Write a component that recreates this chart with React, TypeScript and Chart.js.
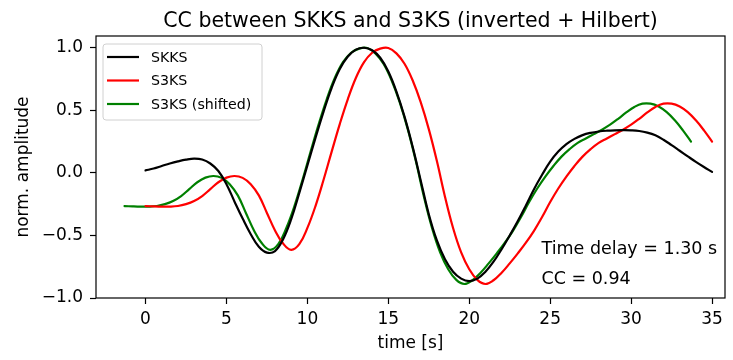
import React, { useEffect, useRef } from "react";
import { Chart, registerables } from "chart.js";

Chart.register(...registerables);

const TITLE = "CC between SKKS and S3KS (inverted + Hilbert)";
const X_LABEL = "time [s]";
const Y_LABEL = "norm. amplitude";
const X_TICKS = [0, 5, 10, 15, 20, 25, 30, 35];
const Y_TICKS = [-1, -0.5, 0, 0.5, 1];
const LEGEND_LABELS = ["SKKS", "S3KS", "S3KS (shifted)"];
const ANNOTATIONS = ["Time delay = 1.30 s", "CC = 0.94"];

// sample times (s) of SKKS and S3KS, 0.5 s spacing
const TIME = [
  0, 0.5, 1, 1.5, 2, 2.5, 3, 3.5, 4, 4.5, 5, 5.5, 6, 6.5, 7, 7.5, 8, 8.5, 9, 9.5,
  10, 10.5, 11, 11.5, 12, 12.5, 13, 13.5, 14, 14.5, 15, 15.5, 16, 16.5, 17, 17.5, 18, 18.5, 19, 19.5,
  20, 20.5, 21, 21.5, 22, 22.5, 23, 23.5, 24, 24.5, 25, 25.5, 26, 26.5, 27, 27.5, 28, 28.5, 29, 29.5,
  30, 30.5, 31, 31.5, 32, 32.5, 33, 33.5, 34, 34.5, 35,
];
// sample times of the shifted S3KS trace (TIME − 1.30 s)
const SHIFTED_TIME = [
  -1.3, -0.8, -0.3, 0.2, 0.7, 1.2, 1.7, 2.2, 2.7, 3.2, 3.7, 4.2, 4.7, 5.2, 5.7, 6.2, 6.7, 7.2, 7.7, 8.2,
  8.7, 9.2, 9.7, 10.2, 10.7, 11.2, 11.7, 12.2, 12.7, 13.2, 13.7, 14.2, 14.7, 15.2, 15.7, 16.2, 16.7, 17.2, 17.7, 18.2,
  18.7, 19.2, 19.7, 20.2, 20.7, 21.2, 21.7, 22.2, 22.7, 23.2, 23.7, 24.2, 24.7, 25.2, 25.7, 26.2, 26.7, 27.2, 27.7, 28.2,
  28.7, 29.2, 29.7, 30.2, 30.7, 31.2, 31.7, 32.2, 32.7, 33.2, 33.7,
];

const SKKS = [
  0.02, 0.035, 0.055, 0.075, 0.092, 0.106, 0.114, 0.107, 0.075, 0.015, -0.09, -0.23, -0.365, -0.49, -0.59, -0.637, -0.625, -0.53, -0.37, -0.16,
  0.06, 0.28, 0.49, 0.68, 0.83, 0.93, 0.985, 1.0, 0.98, 0.92, 0.81, 0.65, 0.45, 0.21, -0.06, -0.33, -0.54, -0.69, -0.79, -0.845,
  -0.865, -0.845, -0.79, -0.71, -0.61, -0.5, -0.385, -0.26, -0.13, -0.015, 0.09, 0.17, 0.23, 0.272, 0.302, 0.32, 0.331, 0.337, 0.34, 0.341,
  0.34, 0.335, 0.322, 0.3, 0.265, 0.222, 0.177, 0.132, 0.088, 0.047, 0.008,
];

const S3KS = [
  -0.265, -0.268, -0.27, -0.27, -0.265, -0.25, -0.225, -0.185, -0.13, -0.075, -0.038, -0.025, -0.04, -0.09, -0.18, -0.32, -0.46, -0.565, -0.615, -0.57,
  -0.44, -0.265, -0.055, 0.17, 0.39, 0.59, 0.76, 0.885, 0.96, 0.993, 0.998, 0.955, 0.872, 0.74, 0.565, 0.35, 0.095, -0.19, -0.44, -0.635,
  -0.77, -0.855, -0.888, -0.858, -0.798, -0.723, -0.643, -0.558, -0.463, -0.353, -0.233, -0.125, -0.03, 0.055, 0.13, 0.19, 0.24, 0.275, 0.31, 0.345,
  0.385, 0.432, 0.483, 0.527, 0.553, 0.553, 0.53, 0.485, 0.42, 0.34, 0.25,
];

const S3KS_SHIFTED = [
  -0.265, -0.268, -0.27, -0.27, -0.265, -0.25, -0.225, -0.185, -0.13, -0.075, -0.038, -0.025, -0.04, -0.09, -0.18, -0.32, -0.46, -0.565, -0.615, -0.57,
  -0.44, -0.265, -0.055, 0.17, 0.39, 0.59, 0.76, 0.885, 0.96, 0.993, 0.998, 0.955, 0.872, 0.74, 0.565, 0.35, 0.095, -0.19, -0.44, -0.635,
  -0.77, -0.855, -0.888, -0.858, -0.798, -0.723, -0.643, -0.558, -0.463, -0.353, -0.233, -0.125, -0.03, 0.055, 0.13, 0.19, 0.24, 0.275, 0.31, 0.345,
  0.385, 0.432, 0.483, 0.527, 0.553, 0.553, 0.53, 0.485, 0.42, 0.34, 0.25,
];

const COLORS = ["#000000", "#ff0000", "#008000"];
const FONT = "'DejaVu Sans', sans-serif";

const pts = (t: number[], a: number[]) => t.map((x, i) => ({ x, y: a[i] }));
const fmt = (v: number, d: number) => v.toFixed(d).replace("-", "\u2212");

const decorPlugin = {
  id: "decor",
  afterDatasetsDraw(chart: any) {
    const { ctx, chartArea } = chart;
    const { left, right, top, bottom } = chartArea;
    ctx.save();
    // frame
    ctx.strokeStyle = "#000";
    ctx.lineWidth = 1.2;
    ctx.strokeRect(left, top, right - left, bottom - top);

    ctx.fillStyle = "#000";
    // title
    ctx.font = `20.5px ${FONT}`;
    ctx.textAlign = "center";
    ctx.textBaseline = "alphabetic";
    ctx.fillText(TITLE, (left + right) / 2, 27);

    // x label
    ctx.font = `17px ${FONT}`;
    ctx.fillText(X_LABEL, (left + right) / 2, 348);

    // y label
    ctx.save();
    ctx.translate(28, (top + bottom) / 2);
    ctx.rotate(-Math.PI / 2);
    ctx.textBaseline = "alphabetic";
    ctx.fillText(Y_LABEL, 0, 0);
    ctx.restore();

    // annotations
    ctx.textAlign = "left";
    ctx.font = `17.5px ${FONT}`;
    ctx.fillText(ANNOTATIONS[0], 541.5, 254);
    ctx.fillText(ANNOTATIONS[1], 541.5, 284);

    // legend
    const bx = 103, by = 44, bw = 159, bh = 76, r = 3;
    ctx.beginPath();
    ctx.moveTo(bx + r, by);
    ctx.lineTo(bx + bw - r, by);
    ctx.arcTo(bx + bw, by, bx + bw, by + r, r);
    ctx.lineTo(bx + bw, by + bh - r);
    ctx.arcTo(bx + bw, by + bh, bx + bw - r, by + bh, r);
    ctx.lineTo(bx + r, by + bh);
    ctx.arcTo(bx, by + bh, bx, by + bh - r, r);
    ctx.lineTo(bx, by + r);
    ctx.arcTo(bx, by, bx + r, by, r);
    ctx.closePath();
    ctx.fillStyle = "rgba(255,255,255,0.8)";
    ctx.fill();
    ctx.strokeStyle = "#d0d0d0";
    ctx.lineWidth = 1;
    ctx.stroke();

    ctx.font = `14.2px ${FONT}`;
    ctx.textBaseline = "middle";
    ctx.textAlign = "left";
    const ys = [57, 80.5, 104];
    LEGEND_LABELS.forEach((lab, i) => {
      ctx.strokeStyle = COLORS[i];
      ctx.lineWidth = 2.2;
      ctx.beginPath();
      ctx.moveTo(107, ys[i]);
      ctx.lineTo(139, ys[i]);
      ctx.stroke();
      ctx.fillStyle = "#000";
      ctx.fillText(lab, 151, ys[i] + 1);
    });
    ctx.restore();
  },
};

export default function App() {
  const ref = useRef<HTMLCanvasElement | null>(null);

  useEffect(() => {
    if (!ref.current) return;
    const series = [
      pts(TIME, SKKS),
      pts(TIME, S3KS),
      pts(SHIFTED_TIME, S3KS_SHIFTED),
    ];
    const chart = new Chart(ref.current, {
      type: "line",
      data: {
        datasets: series.map((d, i) => ({
          label: LEGEND_LABELS[i],
          data: d,
          borderColor: COLORS[i],
          backgroundColor: COLORS[i],
          borderWidth: 2.2,
          pointRadius: 0,
          fill: false,
          tension: 0.4,
          borderJoinStyle: "round" as const,
          borderCapStyle: "round" as const,
        })),
      },
      options: {
        responsive: false,
        animation: false,
        devicePixelRatio: 1,
        layout: { padding: { left: 0, right: 8, top: 36, bottom: 0 } },
        plugins: {
          legend: { display: false },
          title: { display: false },
          tooltip: { enabled: false },
        },
        scales: {
          x: {
            type: "linear",
            min: -3.06,
            max: 35.8,
            afterBuildTicks: (s: any) => {
              s.ticks = X_TICKS.map((v) => ({ value: v }));
            },
            afterFit: (s: any) => {
              s.height = 62;
            },
            grid: {
              drawOnChartArea: false,
              drawTicks: true,
              tickLength: 6,
              tickColor: "#000",
              tickWidth: 1.2,
            },
            border: { display: false },
            ticks: {
              autoSkip: false,
              maxRotation: 0,
              padding: 5,
              color: "#000",
              font: { family: FONT, size: 17 },
              callback: (v: any) => fmt(Number(v), 0),
            },
          },
          y: {
            type: "linear",
            min: -1.0,
            max: 1.094,
            afterBuildTicks: (s: any) => {
              s.ticks = Y_TICKS.map((v) => ({ value: v }));
            },
            afterFit: (s: any) => {
              s.width = 96;
            },
            grid: {
              drawOnChartArea: false,
              drawTicks: true,
              tickLength: 6,
              tickColor: "#000",
              tickWidth: 1.2,
            },
            border: { display: false },
            ticks: {
              autoSkip: false,
              padding: 7,
              color: "#000",
              font: { family: FONT, size: 17 },
              callback: (v: any) => fmt(Number(v), 1),
            },
          },
        },
      },
      plugins: [decorPlugin],
    });
    return () => chart.destroy();
  }, []);

  return (
    <div style={{ position: "fixed", left: 0, top: 0, width: 733, height: 360, background: "#fff" }}>
      <canvas ref={ref} width={733} height={360} style={{ width: 733, height: 360, display: "block" }} />
    </div>
  );
}
